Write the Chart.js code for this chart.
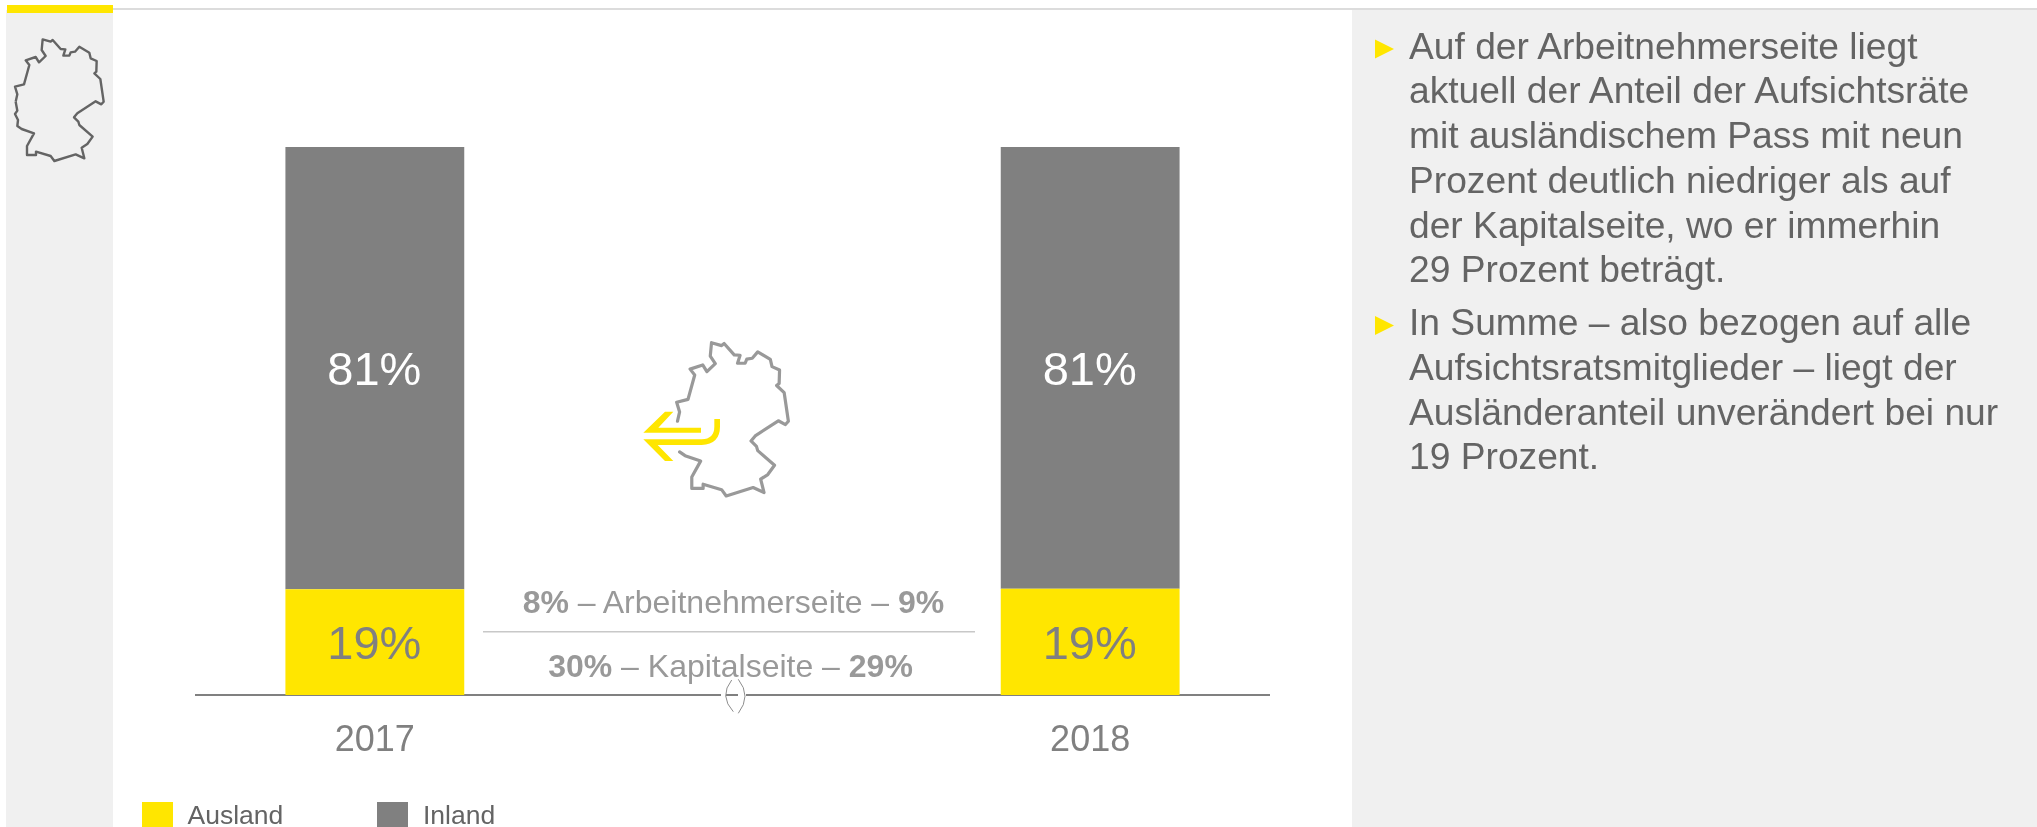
<!DOCTYPE html>
<html lang="de">
<head>
<meta charset="utf-8">
<title>Ausländeranteil Aufsichtsräte</title>
<script src="https://cdn.jsdelivr.net/npm/chart.js@4"></script>
<style>
html,body{margin:0;padding:0;width:2037px;height:827px;overflow:hidden;background:#fff;font-family:"Liberation Sans",Arial,sans-serif}
#bg,#fg{position:absolute;left:0;top:0;width:2037px;height:827px}
#wrap{position:absolute;left:0;top:0;width:2037px;height:827px}
#fg{pointer-events:none}
text{font-family:"Liberation Sans",Arial,sans-serif}
</style>
</head>
<body>
<svg id="bg" viewBox="0 0 2037 827" xmlns="http://www.w3.org/2000/svg">
  <rect x="6" y="10" width="107" height="817" fill="#F0F0F0"/>
  <rect x="1352" y="10" width="685" height="817" fill="#F0F0F0"/>
  <rect x="113" y="8" width="1924" height="2" fill="#DCDCDC"/>
  <rect x="7" y="5" width="106" height="8" fill="#FFE600"/>
</svg>
<div id="wrap"><canvas id="c" width="2037" height="827"></canvas></div>
<svg id="fg" viewBox="0 0 2037 827" xmlns="http://www.w3.org/2000/svg"></svg>
<script>
const categories = ["2017", "", "2018"];
const ausland = [19.3, null, 19.4];
const inland = [80.7, null, 80.6];
const seriesNames = ["Ausland", "Inland"];
const seriesColors = ["#FFE600", "#808080"];
const labelColors = ["#808080", "#FFFFFF"];

const sideRow1 = ["8%", " – Arbeitnehmerseite – ", "9%"];
const sideRow2 = ["30%", " – Kapitalseite – ", "29%"];
const bullets = [
  ["Auf der Arbeitnehmerseite liegt", "aktuell der Anteil der Aufsichtsräte", "mit ausländischem Pass mit neun", "Prozent deutlich niedriger als auf", "der Kapitalseite, wo er immerhin", "29 Prozent beträgt."],
  ["In Summe – also bezogen auf alle", "Aufsichtsratsmitglieder – liegt der", "Ausländeranteil unverändert bei nur", "19 Prozent."]
];

const NS = "http://www.w3.org/2000/svg";
const fg = document.getElementById("fg");
function el(name, attrs, parent, txt) {
  const e = document.createElementNS(NS, name);
  for (const k in attrs) e.setAttribute(k, attrs[k]);
  if (txt !== undefined) e.textContent = txt;
  (parent || fg).appendChild(e);
  return e;
}

/* Germany outline decoration */
const outline = [[47,305],[52,283],[45,260],[72,253],[88,195],[77,181],[107,171],[117,187],[137,168],[125,150],[128,118],[152,125],[158,120],[182,147],[196,148],[190,167],[208,167],[212,157],[225,155],[238,140],[268,158],[272,175],[290,183],[289,215],[283,220],[301,237],[311,305],[304,313],[287,304],[232,340],[222,352],[235,365],[238,375],[278,410],[262,432],[245,443],[253,475],[227,463],[163,483],[152,468],[108,455],[108,465],[81,465],[81,438],[102,400],[65,387],[52,378]];
const closing = [[54,360],[45,342],[52,332],[47,305]];
function toSmall(p){return (p[0]/3)+","+(p[1]/3);}
function toBig(p){return (620+(170+(p[0]-45)*1.26)/3)+","+(320+(68+(p[1]-118)*1.26)/3);}
el("polyline",{points:outline.concat(closing).map(toSmall).join(" "),fill:"none",stroke:"#646464","stroke-width":2.4,"stroke-linejoin":"round"});
el("polyline",{points:outline.map(toBig).join(" "),fill:"none",stroke:"#999999","stroke-width":3.2,"stroke-linejoin":"round","stroke-linecap":"round"});
const arrows = el("g",{transform:"translate(620 320) scale(0.3333)",fill:"#FFE600"});
el("path",{d:"M70 338 L135 275 L160 275 L115 323 L243 323 L243 338 Z"},arrows);
el("path",{d:"M70 358 L135 423 L160 423 L113 375 L245 375 Q300 372 300 320 L300 297 L283 297 L283 320 Q283 356 245 358 Z"},arrows);

/* Middle annotation */
function row(parts, x, y) {
  const t = el("text",{x:x,y:y,"text-anchor":"middle","font-size":32,fill:"#999999"});
  t.style.whiteSpace="pre";
  el("tspan",{"font-weight":"bold"},t,parts[0]);
  el("tspan",{},t,parts[1]);
  el("tspan",{"font-weight":"bold"},t,parts[2]);
}
row(sideRow1, 733.5, 613);
row(sideRow2, 730.5, 677);
el("rect",{x:483,y:631,width:492,height:1.5,fill:"#C8C8C8"});

/* Break mark on the axis */
el("rect",{x:721,y:693,width:25,height:4,fill:"#FFFFFF"});
el("rect",{x:726,y:694,width:12,height:2,fill:"#808080"});
el("path",{d:"M731.7 680 Q718.9 696 733.3 711.7",fill:"none",stroke:"#8C8C8C","stroke-width":1});
el("path",{d:"M738.3 679.3 Q751.7 696 738.3 713.3",fill:"none",stroke:"#8C8C8C","stroke-width":1});

/* Right hand text */
const firstBase = [58.5, 335];
bullets.forEach((lines, i) => {
  const b = firstBase[i];
  el("polygon",{points:`1375,${b-19} 1394,${b-9.5} 1375,${b}`,fill:"#FFE600"});
  lines.forEach((ln, j) => el("text",{x:1409,y:b+j*44.75,"font-size":37.2,fill:"#646464"},fg,ln));
});

/* Legend */
const legendX = [142, 377];
const legendTextX = [187.5, 423];
seriesNames.forEach((n, i) => {
  el("rect",{x:legendX[i],y:802,width:31,height:25,fill:seriesColors[i]});
  el("text",{x:legendTextX[i],y:824,"font-size":26.5,fill:"#646464"},fg,n);
});

const barLabels = {
  id: "barLabels",
  afterDatasetsDraw(chart) {
    const ctx = chart.ctx;
    ctx.save();
    ctx.font = '47px "Liberation Sans", Arial, sans-serif';
    ctx.textAlign = "center";
    ctx.textBaseline = "alphabetic";
    chart.data.datasets.forEach((ds, di) => {
      chart.getDatasetMeta(di).data.forEach((bar, i) => {
        if (ds.data[i] == null) return;
        const props = bar.getProps(["x","y","base"], true);
        ctx.fillStyle = labelColors[di];
        ctx.fillText(Math.round(ds.data[i]) + "%", props.x - 0.5, (props.y + props.base) / 2 + 17);
      });
    });
    ctx.restore();
  }
};

new Chart(document.getElementById("c"), {
  type: "bar",
  data: {
    labels: categories,
    datasets: [
      {label: seriesNames[0], data: ausland, backgroundColor: seriesColors[0], borderWidth: 0},
      {label: seriesNames[1], data: inland, backgroundColor: seriesColors[1], borderWidth: 0}
    ]
  },
  plugins: [barLabels],
  options: {
    responsive: false,
    animation: false,
    layout: {padding: {left: 196, right: 768, top: 147, bottom: 72}},
    plugins: {legend: {display: false}, tooltip: {enabled: false}, title: {display: false}},
    datasets: {bar: {barPercentage: 0.5, categoryPercentage: 1}},
    scales: {
      x: {
        stacked: true,
        grid: {display: false, drawTicks: false},
        border: {display: true, color: "#808080", width: 2},
        afterFit(s) { s.height = 60; },
        ticks: {
          autoSkip: false, maxRotation: 0, padding: 24, color: "#808080",
          font: {family: '"Liberation Sans", Arial, sans-serif', size: 36}
        }
      },
      y: {stacked: true, display: false, min: 0, max: 100}
    }
  }
});
</script>
</body>
</html>
